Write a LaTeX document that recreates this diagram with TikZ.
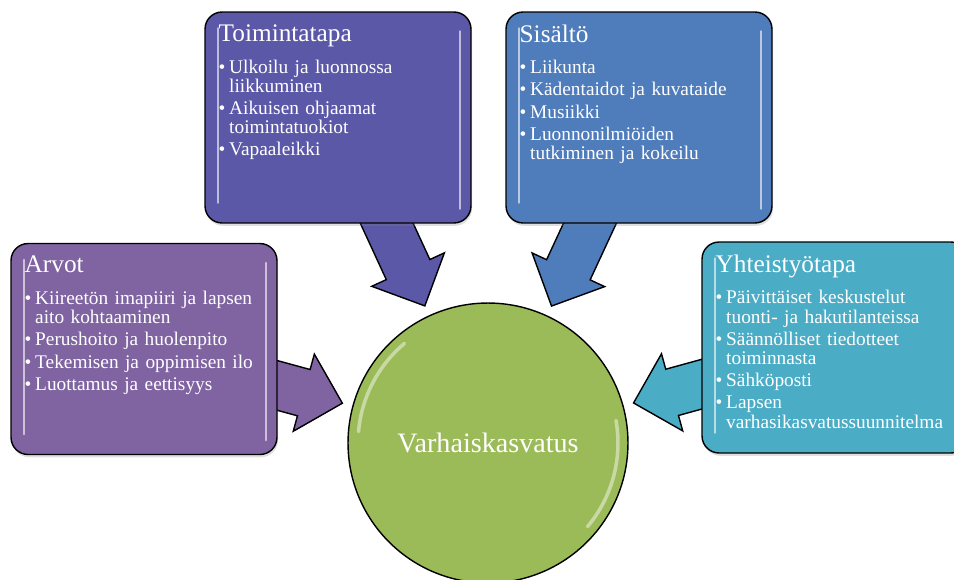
\documentclass[tikz,border=0pt]{standalone}
\usepackage{fontspec}
\setmainfont{Liberation Serif}
\usetikzlibrary{calc,shadows,backgrounds}

\definecolor{arvotc}{HTML}{8064A2}
\definecolor{toimc}{HTML}{5C58A8}
\definecolor{sisc}{HTML}{4F7CBB}
\definecolor{yhtc}{HTML}{4BACC6}
\definecolor{hubc}{HTML}{9BBB59}

\newcommand{\otsikko}[1]{\noindent{\fontsize{14.4}{16}\selectfont #1\par}\vspace{5.4pt}}
\newcommand{\kohta}[1]{\par\vspace{1.6pt}\hangindent=6pt\hangafter=1\noindent\makebox[6pt][l]{\textbullet}#1}

\begin{document}
\begin{tikzpicture}[x=0.02cm, y=-0.02cm,
  laatikko/.style={draw=black, line width=0.8pt, rounded corners=0.34cm,
    minimum width=5.32cm, minimum height=4.22cm, inner sep=0pt,
    drop shadow={opacity=0.25, shadow xshift=0.6pt, shadow yshift=-1.6pt}},
  teksti/.style={text=white, inner sep=0pt, text width=6cm, anchor=north west,
    font=\fontsize{11}{11}\selectfont},
  keskus/.style={circle, draw=black, line width=0.8pt, fill=hubc, minimum size=5.6cm,
    inner sep=0pt, text=white, font=\fontsize{16}{19}\selectfont},
  nuolityyli/.style={draw=black, line width=0.8pt},
  kiilto/.style={white, opacity=0.6, line width=1.3pt, line cap=round}]

  \useasboundingbox (0,0) rectangle (954,579);
  \clip (0,0) rectangle (954,579);

  % laatikot
  \node[laatikko, fill=toimc] (toim) at (338,117.5) {};
  \node[laatikko, fill=sisc] (sis) at (639,117.5) {};
  \node[laatikko, fill=arvotc] (arvot) at (144,349) {};
  \node[laatikko, fill=yhtc] (yht) at (835,347.5) {};

  % keskus
  \node[keskus] (hub) at (488,443) {Varhaiskasvatus};

  % nuolet laatikoista keskukseen
  \begin{scope}[on background layer]
    \foreach \b/\c in {arvot/arvotc, toim/toimc, sis/sisc, yht/yhtc}{
      \coordinate (k) at ($(hub.center)!3.02cm!(\b.center)$);
      \coordinate (j) at ($(k)!0.8cm!(\b.center)$);
      \filldraw[nuolityyli, fill=\c] ($(\b.center)!0.48cm!90:(k)$) -- ($(j)!0.48cm!90:(k)$)
        -- ($(j)!0.8cm!90:(k)$) -- (k) -- ($(j)!0.8cm!-90:(k)$)
        -- ($(j)!0.48cm!-90:(k)$) -- ($(\b.center)!0.48cm!-90:(k)$) -- cycle;
    }
  \end{scope}

  % kiilto
  \foreach \b in {arvot,toim,sis,yht}{
    \draw[kiilto] ([shift={(14,17)}]\b.north west) -- ([shift={(14,-21)}]\b.south west);
    \draw[kiilto] ([shift={(-12,20)}]\b.north east) -- ([shift={(-12,-15)}]\b.south east);
  }
  \draw[kiilto, opacity=0.45, line width=2pt] ($(hub.center)+(130:2.6cm)$) arc[start angle=130, end angle=175, radius=2.6cm];
  \draw[kiilto, opacity=0.45, line width=2pt] ($(hub.center)+(10:2.6cm)$) arc[start angle=10, end angle=-40, radius=2.6cm];

  % tekstit
  \node[teksti] (toim-t) at ([shift={(14,13)}]toim.north west) {\otsikko{Toimintatapa}%
    \kohta{Ulkoilu ja luonnossa\newline liikkuminen}%
    \kohta{Aikuisen ohjaamat\newline toimintatuokiot}%
    \kohta{Vapaaleikki}\par};
  \node[teksti] (sis-t) at ([shift={(14,13)}]sis.north west) {\otsikko{Sisältö}%
    \kohta{Liikunta}%
    \kohta{Kädentaidot ja kuvataide}%
    \kohta{Musiikki}%
    \kohta{Luonnonilmiöiden\newline tutkiminen ja kokeilu}\par};
  \node[teksti] (arvot-t) at ([shift={(14,13)}]arvot.north west) {\otsikko{Arvot}%
    \kohta{Kiireetön imapiiri ja lapsen\newline aito kohtaaminen}%
    \kohta{Perushoito ja huolenpito}%
    \kohta{Tekemisen ja oppimisen ilo}%
    \kohta{Luottamus ja eettisyys}\par};
  \node[teksti] (yht-t) at ([shift={(14,13)}]yht.north west) {\otsikko{Yhteistyötapa}%
    \kohta{Päivittäiset keskustelut\newline tuonti- ja hakutilanteissa}%
    \kohta{Säännölliset tiedotteet\newline toiminnasta}%
    \kohta{Sähköposti}%
    \kohta{Lapsen\newline varhasikasvatussuunnitelma}\par};

\end{tikzpicture}
\end{document}
